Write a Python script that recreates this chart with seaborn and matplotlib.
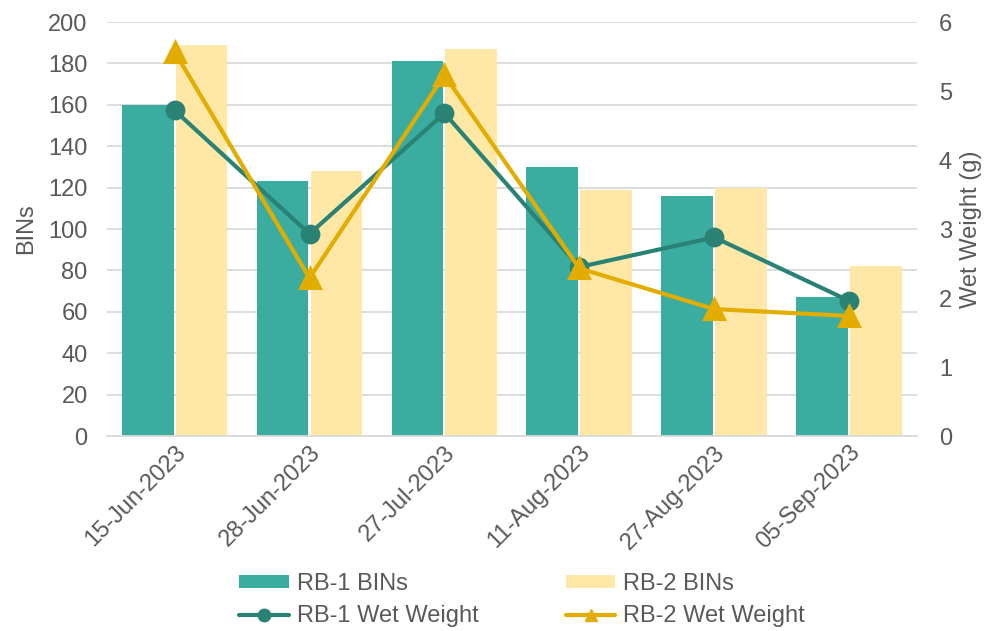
import pandas as pd
import numpy as np
import matplotlib.pyplot as plt
import seaborn as sns
from matplotlib.lines import Line2D
from matplotlib.patches import Patch

sns.set_theme(style='white')
plt.rcParams['font.family'] = ['Liberation Sans', 'DejaVu Sans']

# data
dates = ['15-Jun-2023', '28-Jun-2023', '27-Jul-2023', '11-Aug-2023', '27-Aug-2023', '05-Sep-2023']
rb1_bins = [160, 123, 181, 130, 116, 67]
rb2_bins = [189, 128, 187, 119, 120, 82]
rb1_wet = [4.72, 2.93, 4.68, 2.45, 2.88, 1.96]
rb2_wet = [5.57, 2.29, 5.23, 2.43, 1.84, 1.74]

bar_cols = ['#3AADA0', '#FFE8A6']
line_cols = ['#2A8275', '#E3AC00']
txt = '#595959'
fs = 17

bins_df = pd.DataFrame({
    'date': dates * 2,
    'BINs': rb1_bins + rb2_bins,
    'series': ['RB-1 BINs'] * 6 + ['RB-2 BINs'] * 6,
})
wet_df = pd.DataFrame({
    'date': dates * 2,
    'wet': rb1_wet + rb2_wet,
    'series': ['RB-1 Wet Weight'] * 6 + ['RB-2 Wet Weight'] * 6,
})

fig = plt.figure(figsize=(9.92, 6.31), dpi=100)
ax = fig.add_axes([0.108, 0.309, 0.816, 0.656])

sns.barplot(data=bins_df, x='date', y='BINs', hue='series', order=dates,
            palette=bar_cols, width=0.8, gap=0.04, saturation=1,
            edgecolor='none', legend=False, ax=ax, zorder=2)

ax2 = ax.twinx()
sns.pointplot(data=wet_df, x='date', y='wet', hue='series', order=dates,
              palette=line_cols, markers=['o', '^'], linestyles=['-', '-'],
              markersize=12, linewidth=3.0, legend=False, ax=ax2)
# triangles a bit larger than the circles
for ln in ax2.lines:
    if ln.get_marker() == '^':
        ln.set_markersize(15)

ax.set_ylim(0, 200)
ax.set_yticks(np.arange(0, 201, 20))
ax2.set_ylim(0, 6)
ax2.set_yticks(np.arange(0, 7, 1))
ax.set_xlim(-0.5, 5.5)

ax.yaxis.grid(True, color='#D9D9D9', linewidth=1.3, zorder=0)
ax.set_axisbelow(True)
for a in (ax, ax2):
    for s in a.spines.values():
        s.set_visible(False)
ax.spines['bottom'].set_visible(True)
ax.spines['bottom'].set_color('#D9D9D9')
ax.spines['bottom'].set_linewidth(1.3)

ax.set_xlabel('')
ax.set_ylabel('BINs', fontsize=fs, color=txt, labelpad=8)
ax2.set_ylabel('Wet Weight (g)', fontsize=fs, color=txt, labelpad=6)
ax.tick_params(axis='y', length=0, labelsize=fs, labelcolor=txt, pad=14)
ax2.tick_params(axis='y', length=0, labelsize=fs, labelcolor=txt, pad=16)
ax.tick_params(axis='x', length=0, labelsize=fs, labelcolor=txt, pad=4)
ax.set_xticks(range(len(dates)))
ax.set_xticklabels(dates, rotation=45, ha='right', rotation_mode='anchor')

handles = [
    Patch(facecolor=bar_cols[0], edgecolor='none'),
    Line2D([], [], color=line_cols[0], lw=3.0, marker='o', markersize=9),
    Patch(facecolor=bar_cols[1], edgecolor='none'),
    Line2D([], [], color=line_cols[1], lw=3.0, marker='^', markersize=9),
]
labels = ['RB-1 BINs', 'RB-1 Wet Weight', 'RB-2 BINs', 'RB-2 Wet Weight']
fig.legend(handles, labels, loc='lower left', bbox_to_anchor=(0.241, 0.006),
           ncol=2, frameon=False, fontsize=fs, labelcolor=txt,
           handlelength=2.1, handleheight=0.45, handletextpad=0.34,
           columnspacing=3.7, labelspacing=0.45, borderpad=0, borderaxespad=0)

fig.savefig('out.png', dpi=100)
